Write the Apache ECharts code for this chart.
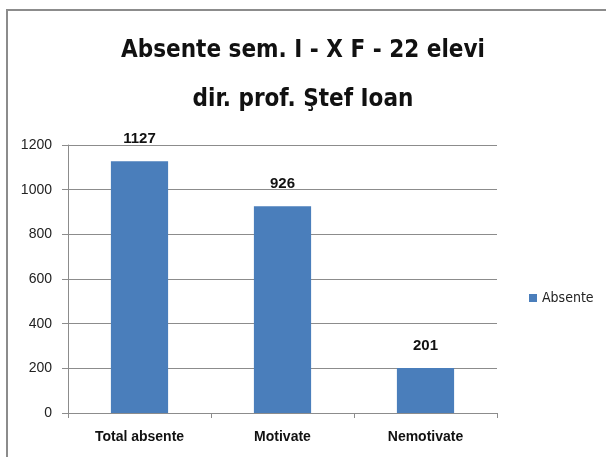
<!DOCTYPE html>
<html>
<head>
<meta charset="utf-8">
<title>Absente</title>
<style>html,body{margin:0;padding:0;background:#fff;}</style>
</head>
<body>
<div id="container" style="width:606px;height:457px;"></div>
<script src="https://cdn.jsdelivr.net/npm/echarts@6/dist/echarts.min.js"></script>
<script>
// date
var categories = ['Total absente', 'Motivate', 'Nemotivate'];
var absente = [1127, 926, 201];
var seriesName = 'Absente';
var titleLines = ['Absente sem. I - X F - 22 elevi', 'dir. prof. Ştef Ioan'];

var narrow = '"DejaVu Sans Condensed", "Liberation Sans Narrow", sans-serif';
var arial = '"Liberation Sans", Arial, sans-serif';

var chart = echarts.init(document.getElementById('container'));
chart.setOption({
  animation: false,
  // chenarul graficului
  graphic: [{
    type: 'rect',
    shape: { x: 7, y: 10, width: 620, height: 470 },
    style: { fill: 'none', stroke: '#8c8c8c', lineWidth: 2 }
  }],
  title: {
    text: titleLines.join('\n'),
    left: 'center',
    top: 21,
    textStyle: {
      fontFamily: narrow,
      fontWeight: 'bold',
      fontSize: 24,
      lineHeight: 49,
      color: '#111'
    }
  },
  legend: {
    orient: 'vertical',
    left: 524,
    top: 286,
    itemWidth: 8,
    itemHeight: 8,
    itemGap: 4,
    icon: 'rect',
    textStyle: { fontFamily: narrow, fontSize: 14, color: '#222' },
    data: [seriesName]
  },
  grid: { left: 68, right: 109, top: 145, bottom: 44 },
  xAxis: {
    type: 'category',
    data: categories,
    axisLine: { lineStyle: { color: '#8c8c8c' } },
    axisTick: { show: true, length: 5, lineStyle: { color: '#8c8c8c' } },
    axisLabel: { fontFamily: arial, fontWeight: 'bold', fontSize: 14, color: '#111', margin: 17 }
  },
  yAxis: {
    type: 'value',
    min: 0,
    max: 1200,
    interval: 200,
    axisLine: { show: true, lineStyle: { color: '#8c8c8c' } },
    axisTick: { show: true, length: 6, lineStyle: { color: '#8c8c8c' } },
    axisLabel: { fontFamily: arial, fontSize: 14, color: '#222', margin: 16, formatter: function (v) { return String(v); } },
    splitLine: { lineStyle: { color: '#8c8c8c' } }
  },
  series: [{
    name: seriesName,
    type: 'bar',
    data: absente,
    barWidth: '40%',
    itemStyle: { color: '#4a7ebb' },
    label: {
      show: true,
      position: 'top',
      distance: 15,
      fontFamily: arial,
      fontWeight: 'bold',
      fontSize: 15,
      color: '#111'
    }
  }]
});
</script>
</body>
</html>
